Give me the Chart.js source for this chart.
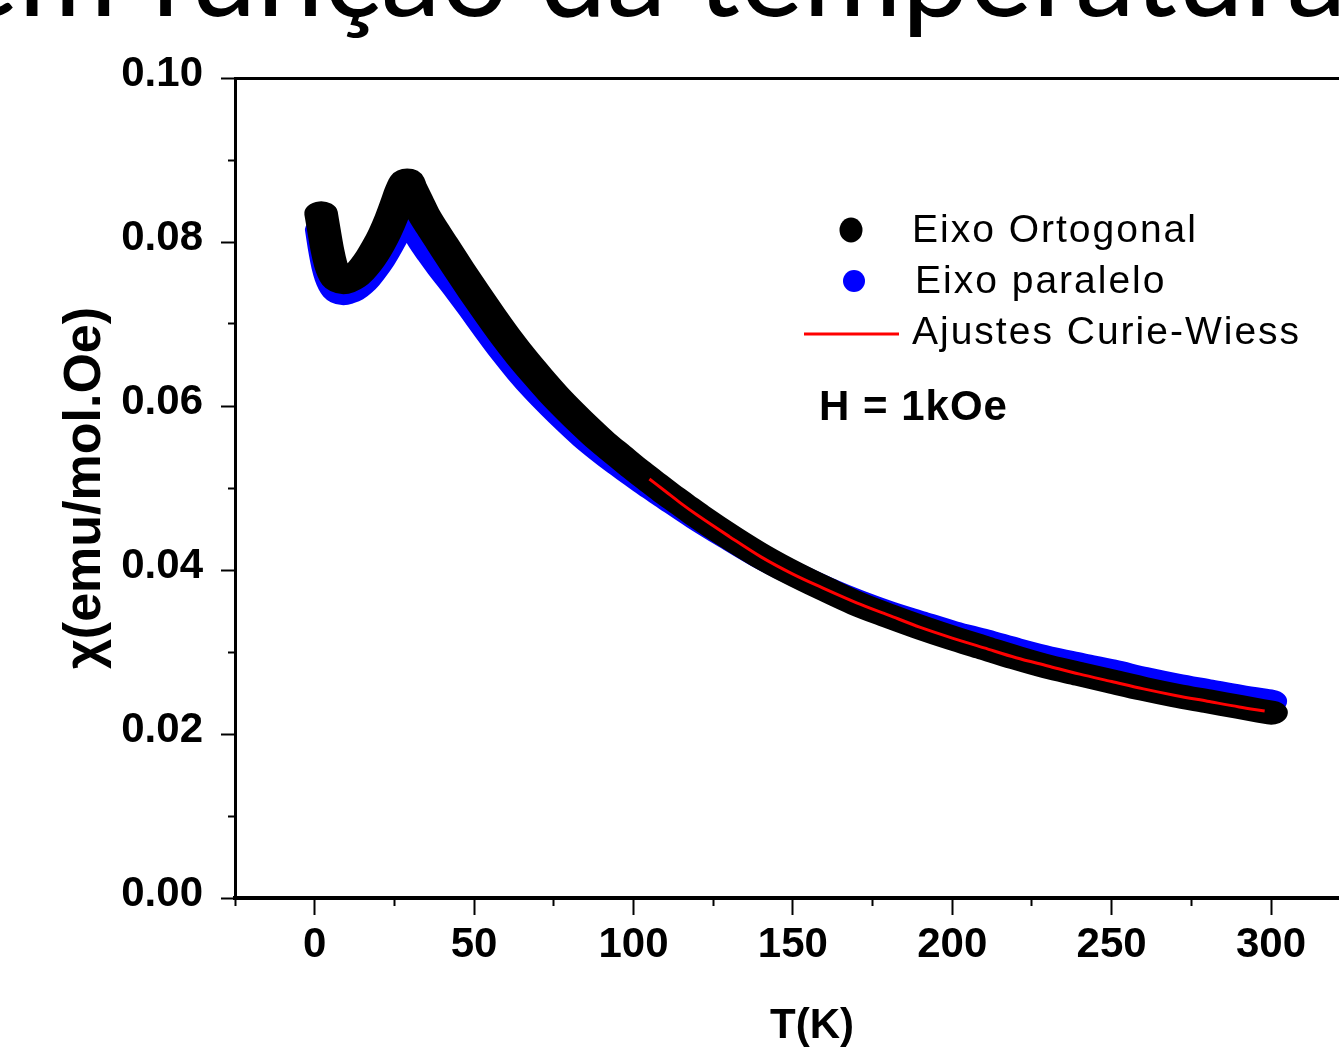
<!DOCTYPE html>
<html>
<head>
<meta charset="utf-8">
<script src="https://cdn.jsdelivr.net/npm/chart.js@4.4.0/dist/chart.umd.min.js"></script>
<style>
  html, body { margin: 0; padding: 0; background: #fff; overflow: hidden; width: 1339px; height: 1055px; }
  #chart { position: absolute; left: 0; top: 0; }
</style>
</head>
<body>
<canvas id="chart" width="1394" height="1055"></canvas>
<script>
// Eixo Ortogonal (black)
const orthoT = [2, 3, 4, 5, 6, 7, 8, 9, 10, 12, 14, 16, 18, 20, 22, 24, 26, 27, 28, 29, 30, 32, 34, 37, 40,
  45, 50, 55, 60, 65, 70, 75, 80, 85, 90, 95, 100, 105, 110, 115, 120, 130, 140, 150, 160, 170, 180,
  190, 200, 210, 220, 230, 240, 250, 260, 270, 280, 290, 300];
const orthoChi = [0.0835, 0.0812, 0.0790, 0.0773, 0.0762, 0.0755, 0.0752, 0.0751, 0.0752, 0.0756, 0.0763,
  0.0772, 0.0783, 0.0796, 0.0811, 0.0829, 0.0850, 0.0861, 0.0870, 0.0875, 0.0867, 0.0851, 0.0835, 0.0816,
  0.0798, 0.0768, 0.0739, 0.0711, 0.0684, 0.0659, 0.0636, 0.0614, 0.0594, 0.0575, 0.0557, 0.0541, 0.0525,
  0.0510, 0.0495, 0.0481, 0.0467, 0.0441, 0.0417, 0.0396, 0.0377, 0.0359, 0.0344, 0.0330, 0.0317, 0.0305,
  0.0293, 0.0282, 0.0273, 0.0264, 0.0255, 0.0247, 0.0240, 0.0233, 0.0226];

// Eixo paralelo (blue)
const paraT = [2, 3, 4, 5, 6, 7, 8, 9, 10, 12, 14, 16, 18, 20, 22, 24, 26, 28, 29, 30, 32, 34, 37, 40,
  45, 50, 55, 60, 65, 70, 75, 80, 85, 90, 95, 100, 105, 110, 120, 130, 140, 150, 160, 170, 180,
  190, 200, 210, 220, 230, 240, 250, 260, 270, 280, 290, 300];
const paraChi = [0.0815, 0.0790, 0.0770, 0.0756, 0.0747, 0.0741, 0.0738, 0.0737, 0.0738, 0.0741, 0.0747,
  0.0755, 0.0765, 0.0776, 0.0789, 0.0803, 0.0818, 0.0832, 0.0836, 0.0829, 0.0815, 0.0801, 0.0784, 0.0768,
  0.0743, 0.0717, 0.0690, 0.0664, 0.0640, 0.0618, 0.0598, 0.0579, 0.0561, 0.0545, 0.0530, 0.0516, 0.0502,
  0.0489, 0.0463, 0.0439, 0.0416, 0.0396, 0.0378, 0.0362, 0.0348, 0.0336, 0.0324, 0.0314, 0.0303, 0.0293,
  0.0285, 0.0277, 0.0268, 0.0260, 0.0253, 0.0246, 0.0240];

// Ajustes Curie-Wiess (red)
const fitT = [105, 110, 115, 120, 130, 140, 150, 160, 170, 180, 190, 200, 210, 220, 230, 240, 250, 260,
  270, 280, 290, 298];
const fitChi = [0.0511, 0.0496, 0.0481, 0.0467, 0.0441, 0.0416, 0.0395, 0.0377, 0.0360, 0.0345, 0.0330,
  0.0317, 0.0305, 0.0293, 0.0283, 0.0273, 0.0264, 0.0255, 0.0247, 0.0240, 0.0233, 0.0228];

const seriesNames = ["Eixo Ortogonal", "Eixo paralelo", "Ajustes Curie-Wiess"];
const fieldNote = "H = 1kOe";
const pageTitle = "em função da temperatura";

const toPoints = (xs, ys) => xs.map((x, i) => ({ x: x, y: ys[i] }));
const isMajorX = v => Math.abs(v % 50) < 1e-6;
const isMajorY = v => Math.round(v * 100) % 2 === 0;
const tickFont = { family: "'Liberation Sans', Arial", size: 42, weight: "bold" };

// the measured curves are dense marker bands, wider where they are steep:
// stroke them with a pen that is stretched sideways
const markerBand = {
  id: "markerBand",
  beforeDatasetDraw(chart, args) {
    if (args.index === 0) return;
    chart.ctx.stroke = function () {
      this.save();
      this.scale(1.4, 1);
      CanvasRenderingContext2D.prototype.stroke.call(this);
      this.restore();
    };
  },
  afterDatasetDraw(chart) {
    delete chart.ctx.stroke;
  }
};

// legend, field note and cropped slide title
const overlay = {
  id: "overlay",
  afterDraw(chart) {
    const c = chart.ctx;
    c.save();
    c.fillStyle = "#000";
    c.font = "120px Lato";
    c.textBaseline = "alphabetic";
    c.fillText(pageTitle, -45, 16);

    c.beginPath();
    c.ellipse(851, 230, 11.5, 12.5, 0, 0, Math.PI * 2);
    c.fill();
    c.fillStyle = "#0000ff";
    c.beginPath();
    c.arc(854, 281, 11, 0, Math.PI * 2);
    c.fill();
    c.strokeStyle = "#ff0000";
    c.lineWidth = 3;
    c.beginPath();
    c.moveTo(804, 334);
    c.lineTo(899, 334);
    c.stroke();

    c.fillStyle = "#000";
    c.font = "39px 'Liberation Sans', Arial";
    c.letterSpacing = "2px";
    c.fillText(seriesNames[0], 912, 242);
    c.fillText(seriesNames[1], 915, 293);
    c.fillText(seriesNames[2], 912, 344);
    c.font = "bold 42px 'Liberation Sans', Arial";
    c.letterSpacing = "1px";
    c.fillText(fieldNote, 819, 420);
    c.restore();
  }
};

const ctx = document.getElementById("chart").getContext("2d");
new Chart(ctx, {
  type: "line",
  data: {
    datasets: [
      {
        label: seriesNames[2],
        data: toPoints(fitT, fitChi),
        borderColor: "#ff0000",
        borderWidth: 3,
        pointRadius: 0,
        cubicInterpolationMode: "monotone",
        order: 0
      },
      {
        label: seriesNames[0],
        data: toPoints(orthoT, orthoChi),
        borderColor: "#000000",
        borderWidth: 24,
        borderCapStyle: "round",
        borderJoinStyle: "round",
        pointRadius: 0,
        cubicInterpolationMode: "monotone",
        segment: {},
        order: 1
      },
      {
        label: seriesNames[1],
        data: toPoints(paraT, paraChi),
        borderColor: "#0000ff",
        borderWidth: 23,
        borderCapStyle: "round",
        borderJoinStyle: "round",
        pointRadius: 0,
        cubicInterpolationMode: "monotone",
        segment: {},
        order: 2
      }
    ]
  },
  options: {
    responsive: false,
    animation: false,
    layout: { padding: 0 },
    plugins: { legend: { display: false }, tooltip: { enabled: false } },
    scales: {
      x: {
        type: "linear",
        position: "bottom",
        min: -25,
        max: 337,
        afterFit: s => { s.height = 157; },
        border: { display: true, color: "#000", width: 4 },
        grid: {
          drawOnChartArea: false,
          drawTicks: true,
          tickLength: 17,
          tickWidth: 2,
          tickColor: "#000",
          tickBorderDash: c => isMajorX(c.tick.value) ? [] : [6, 100]
        },
        ticks: {
          stepSize: 25,
          autoSkip: false,
          maxRotation: 0,
          padding: 5,
          color: "#000",
          font: tickFont,
          callback: v => (isMajorX(v) && v >= 0 && v <= 300) ? String(v) : ""
        },
        title: {
          display: true,
          text: "T(K)",
          color: "#000",
          font: { family: "'Liberation Sans Narrow', 'Liberation Sans', Arial", size: 42, weight: "bold", lineHeight: 1 },
          padding: { top: 0, bottom: 8 }
        }
      },
      x2: {
        type: "linear",
        position: "top",
        min: -25,
        max: 337,
        afterFit: s => { s.height = 78; },
        border: { display: true, color: "#000", width: 3 },
        grid: { display: false },
        ticks: { display: false }
      },
      y: {
        type: "linear",
        position: "left",
        min: 0,
        max: 0.1,
        afterFit: s => { s.width = 235; },
        border: { display: true, color: "#000", width: 3 },
        grid: {
          drawOnChartArea: false,
          drawTicks: true,
          tickLength: 14,
          tickWidth: 2,
          tickColor: "#000",
          tickBorderDash: c => isMajorY(c.tick.value) ? [] : [0, 7, 20, 100]
        },
        ticks: {
          stepSize: 0.01,
          autoSkip: false,
          padding: 18,
          labelOffset: -4,
          color: "#000",
          font: tickFont,
          callback: v => isMajorY(v) ? v.toFixed(2) : ""
        },
        title: {
          display: true,
          text: "χ(emu/mol.Oe)",
          color: "#000",
          font: { family: "'Liberation Sans', Arial", size: 52, weight: "bold", lineHeight: 1 },
          padding: { top: 60, bottom: 0 }
        }
      }
    }
  },
  plugins: [markerBand, overlay]
});
</script>
</body>
</html>
